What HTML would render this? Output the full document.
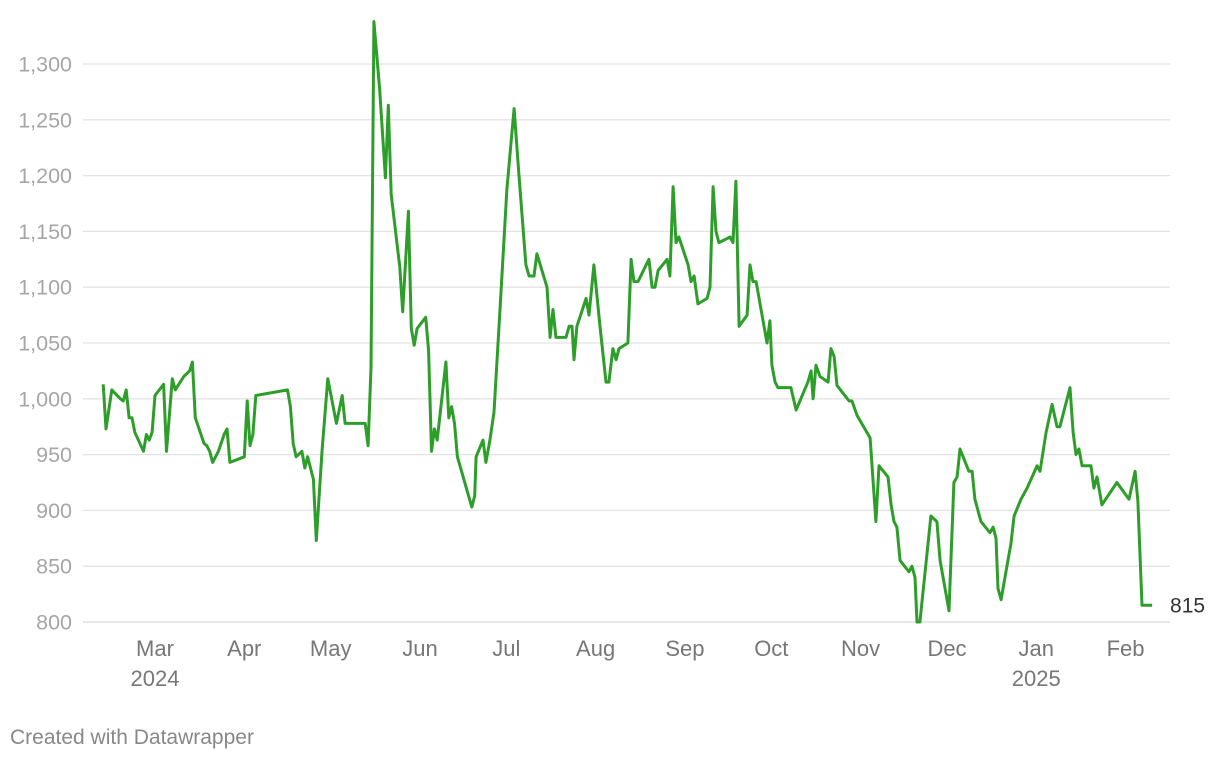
<!DOCTYPE html>
<html><head><meta charset="utf-8"><style>
body{margin:0;background:#fff;font-family:"Liberation Sans",sans-serif;}
svg text{font-family:"Liberation Sans",sans-serif;}
</style></head><body>
<svg id="chart" width="1220" height="760" xmlns="http://www.w3.org/2000/svg">
<g id="grid"></g>
<g id="yax"></g>
<g id="xax"></g>
<path id="line" fill="none" stroke="#2e9e2a" stroke-width="3" stroke-linejoin="round"></path>
<text id="lastlbl" font-size="21" fill="#333"></text>
<text x="10" y="744" font-size="21" fill="#888">Created with Datawrapper</text>
</svg>
<script>
// days since 2024-03-01
const days=[-18,-17,-15,-12,-11,-10,-9,-8,-7,-4,-3,-2,-1,0,3,4,6,7,10,12,13,14,17,18,19,20,22,24,25,26,28,31,32,33,34,35,46,47,48,49,51,52,53,55,56,58,60,63,65,66,73,74,75,76,78,80,81,82,85,86,88,89,90,91,94,95,96,97,98,101,102,103,104,105,110,111,111.5,113.9,114.9,116.3,117.7,119.8,122.2,124.7,126.4,128.8,129.9,131.6,132.6,136.1,137.2,138.2,139.2,142.7,143.8,144.8,145.5,146.5,149.7,150.7,152.4,154.5,156.6,157.6,159,160.1,161.1,164.2,165.3,166.3,167.7,171.5,172.6,173.6,174.7,177.8,178.8,179.9,180.9,181.9,185.1,186.1,187.2,188.5,191.7,192.7,193.8,194.8,195.8,199.7,200.7,201.7,202.8,205.6,206.6,207.6,208.7,212.5,213.5,214.2,215.3,216.3,220.8,222.6,226.7,227.8,228.5,229.5,230.9,233.7,234.7,235.8,236.8,238.9,241,242,243.8,248.3,250.3,251.4,254.5,255.6,256.6,257.6,258.7,261.8,262.8,263.9,264.6,265.6,269.4,271.5,272.6,275.7,277.4,278.5,279.5,282.6,283.7,284.7,286.8,289.9,291,292,292.7,293.8,295.8,297.2,298.3,300.7,302.8,306.3,307.3,309.4,311.5,313.2,314.2,317.7,318.8,319.8,320.8,321.9,325,326,327.1,328.8,334,338.2,340.3,341.3,342.7,346.2];
const values=[1013,973,1008,1000,998,1008,983,983,970,953,968,963,970,1003,1013,953,1018,1008,1020,1025,1033,983,960,958,953,943,953,968,973,943,945,948,998,958,968,1003,1008,993,960,948,953,938,948,928,873,953,1018,978,1003,978,978,958,1028,1338,1278,1198,1263,1183,1118,1078,1168,1063,1048,1063,1073,1043,953,973,963,1033,983,993,978,948,903,913,948,963,943,963,988,1080,1188,1260,1200,1120,1110,1110,1130,1100,1055,1080,1055,1055,1065,1065,1035,1065,1090,1075,1120,1065,1015,1015,1045,1035,1045,1050,1125,1105,1105,1125,1100,1100,1115,1125,1110,1190,1140,1145,1120,1105,1110,1085,1090,1100,1190,1150,1140,1145,1140,1195,1065,1075,1120,1105,1105,1050,1070,1030,1015,1010,1010,990,1015,1025,1000,1030,1020,1015,1045,1038,1012,1005,998,998,985,965,890,940,930,905,890,885,855,845,850,840,800,800,895,890,855,810,925,930,955,935,935,910,890,880,885,875,830,820,850,870,895,910,920,940,935,970,995,975,975,1010,970,950,955,940,940,920,930,905,925,910,935,908,815,815];
const yTicks=[800,850,900,950,1000,1050,1100,1150,1200,1250,1300];
const monthDays=[0,31,61,92,122,153,184,214,245,275,306,337];
const monthLabels=["Mar","Apr","May","Jun","Jul","Aug","Sep","Oct","Nov","Dec","Jan","Feb"];
const yearLabels={"0":"2024","306":"2025"};
const lastLabel="815";

const NS="http://www.w3.org/2000/svg";
const X=d=>155+d*2.88;
const Y=v=>622-(v-800)*1.116;
const grid=document.getElementById('grid'),yax=document.getElementById('yax'),xax=document.getElementById('xax');
yTicks.forEach(t=>{
  const l=document.createElementNS(NS,'line');
  
  
  l.setAttribute('x1',83);l.setAttribute('x2',1170);l.setAttribute('y1',Y(t));l.setAttribute('y2',Y(t));
  l.setAttribute('stroke',t===800?'#d8d8d8':'#e3e3e3');l.setAttribute('stroke-width',1.3);
  grid.appendChild(l);
  const tx=document.createElementNS(NS,'text');
  
  
  tx.setAttribute('x',72);tx.setAttribute('y',Y(t)+7.5);tx.setAttribute('text-anchor','end');
  tx.setAttribute('font-size','21.5');tx.setAttribute('fill','#a6a6a6');
  tx.textContent=t.toLocaleString('en-US');
  yax.appendChild(tx);
});
monthDays.forEach((d,i)=>{
  const tx=document.createElementNS(NS,'text');
  
  
  tx.setAttribute('x',X(d));tx.setAttribute('y',656);tx.setAttribute('text-anchor','middle');
  tx.setAttribute('font-size','22');tx.setAttribute('fill','#777');
  tx.textContent=monthLabels[i];
  xax.appendChild(tx);
  if(yearLabels[d]){
    const ty=document.createElementNS(NS,'text');
    
    
    ty.setAttribute('x',X(d));ty.setAttribute('y',686);ty.setAttribute('text-anchor','middle');
    ty.setAttribute('font-size','22');ty.setAttribute('fill','#777');
    ty.textContent=yearLabels[d];
    xax.appendChild(ty);
  }
});
document.getElementById('line').setAttribute('d',days.map((d,i)=>(i?'L':'M')+X(d).toFixed(1)+','+Y(values[i]).toFixed(1)).join(''));
const ll=document.getElementById('lastlbl');
ll.setAttribute('x',X(days[days.length-1])+18);
ll.setAttribute('y',Y(values[values.length-1])+7);
ll.textContent=lastLabel;
</script>
</body></html>
